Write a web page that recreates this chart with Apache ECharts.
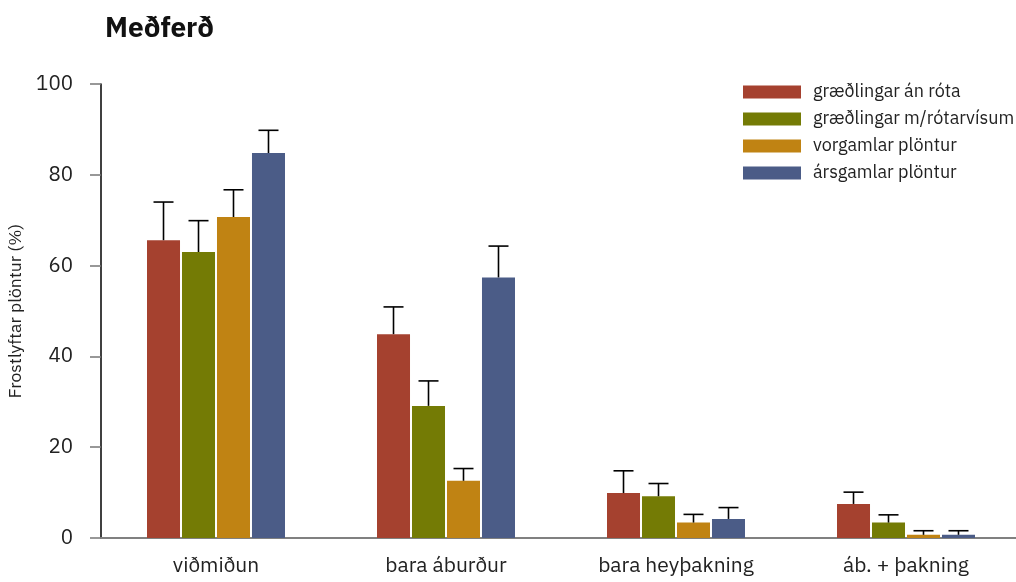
<!DOCTYPE html>
<html><head><meta charset="utf-8">
<script src="https://cdn.jsdelivr.net/npm/echarts@6/dist/echarts.min.js"></script>
<style>html,body{margin:0;padding:0;background:#fff}#c{width:1016px;height:582px}</style>
</head><body><div id="c"></div>
<script>
const categories = ['viðmiðun', 'bara áburður', 'bara heyþakning', 'áb. + þakning'];
const seriesNames = ['græðlingar án róta', 'græðlingar m/rótarvísum', 'vorgamlar plöntur', 'ársgamlar plöntur'];
const redVals = [65.6, 44.9, 9.9, 7.5];
const greenVals = [63.0, 29.1, 9.2, 3.4];
const orangeVals = [70.7, 12.6, 3.4, 0.7];
const blueVals = [84.8, 57.4, 4.2, 0.7];
const redErr = [8.4, 6.0, 4.9, 2.6];
const greenErr = [6.9, 5.5, 2.8, 1.7];
const orangeErr = [6.0, 2.7, 1.8, 0.9];
const blueErr = [5.0, 6.9, 2.5, 0.9];
const yTicks = [0, 20, 40, 60, 80, 100];
const colors = ['#A5412F', '#747B05', '#C08313', '#4B5C87'];

const values = [redVals, greenVals, orangeVals, blueVals];
const errs = [redErr, greenErr, orangeErr, blueErr];
const CAT_GAP = 0.4, BAR_GAP = 0.06;
const FONT = 'IBM Plex Sans, Inter, Noto Sans, sans-serif';

const chart = echarts.init(document.getElementById('c'));
const series = [];
values.forEach((v, i) => {
  series.push({
    name: seriesNames[i], type: 'bar', data: v,
    itemStyle: { color: colors[i] },
    barCategoryGap: (CAT_GAP * 100) + '%', barGap: (BAR_GAP * 100) + '%',
    z: 2
  });
});
values.forEach((v, i) => {
  series.push({
    type: 'custom', z: 5, silent: true,
    data: v.map((val, k) => [k, val, val + errs[i][k]]),
    renderItem: function (params, api) {
      const k = api.value(0);
      const band = api.size([1, 0])[0];
      const total = band * (1 - CAT_GAP);
      const w = total / (4 + 3 * BAR_GAP);
      const base = api.coord([k, api.value(1)]);
      const top = api.coord([k, api.value(2)]);
      const x = base[0] - total / 2 + w / 2 + i * w * (1 + BAR_GAP);
      const cap = 20;
      const st = { stroke: '#000', lineWidth: 1.6 };
      return { type: 'group', children: [
        { type: 'line', shape: { x1: x, y1: base[1], x2: x, y2: top[1] }, style: st },
        { type: 'line', shape: { x1: x - cap / 2, y1: top[1], x2: x + cap / 2, y2: top[1] }, style: st }
      ]};
    }
  });
});

chart.setOption({
  animation: false,
  textStyle: { fontFamily: FONT },
  title: { text: 'Meðferð', left: 100, top: 10, textStyle: { fontSize: 28, fontWeight: 'bold', color: '#111', fontFamily: FONT } },
  legend: {
    data: seriesNames, orient: 'vertical', left: 743, top: 83, padding: 0,
    itemWidth: 58, itemHeight: 13, itemGap: 9, icon: 'rect',
    textStyle: { fontSize: 18, lineHeight: 13, color: '#222', padding: [0, 0, 0, 7], fontFamily: FONT }
  },
  grid: { left: 101, top: 84, width: 920, height: 454, outerBoundsMode: 'none', containLabel: false },
  xAxis: {
    type: 'category', data: categories,
    axisLine: { lineStyle: { color: '#808080', width: 2 } },
    axisTick: { alignWithLabel: true, length: 12, lineStyle: { color: '#000', width: 1.5 } },
    axisLabel: { fontSize: 21, color: '#222', margin: 17, fontFamily: FONT }
  },
  yAxis: {
    type: 'value', min: 0, max: 100, interval: 20,
    name: 'Frostlyftar plöntur (%)', nameLocation: 'middle', nameGap: 71,
    nameTextStyle: { fontSize: 17.5, color: '#222', fontFamily: FONT },
    axisLine: { show: true, lineStyle: { color: '#000', width: 1.5 } },
    axisTick: { show: true, length: 11, lineStyle: { color: '#777', width: 1.5 } },
    axisLabel: { fontSize: 20.5, color: '#222', margin: 28, fontFamily: FONT,
      formatter: v => yTicks.includes(v) ? String(v) : '' },
    splitLine: { show: false }
  },
  series: series
});
</script></body></html>
